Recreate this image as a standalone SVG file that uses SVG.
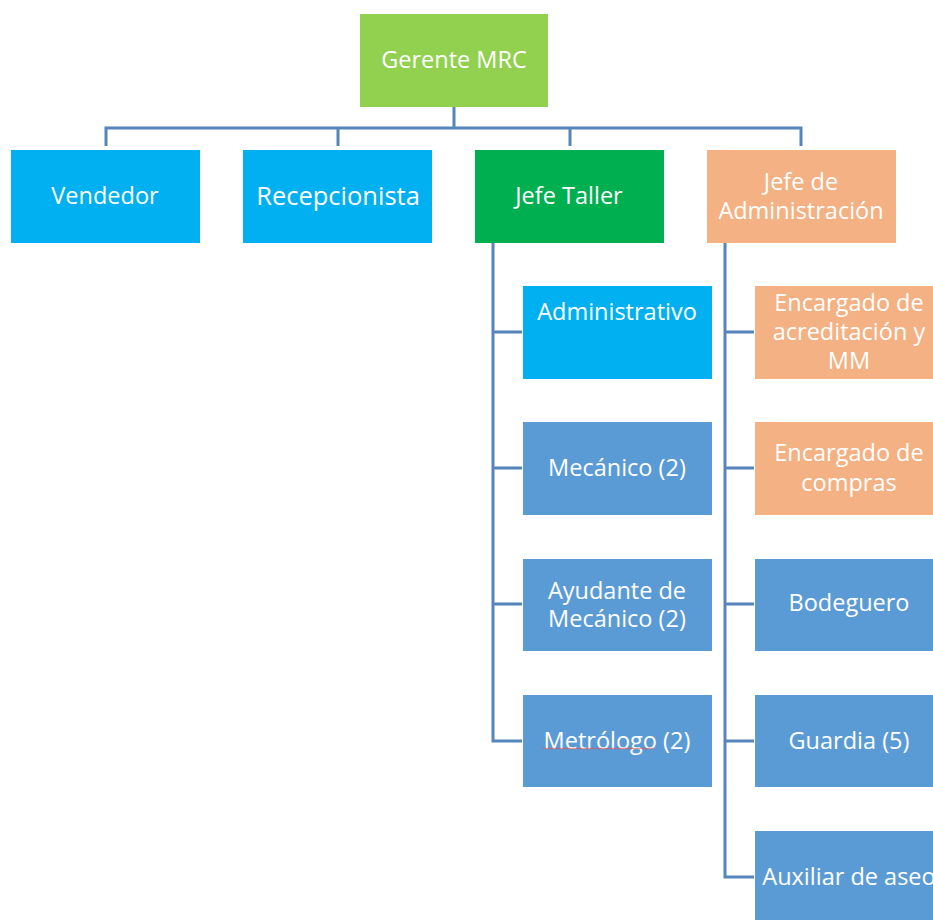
<svg xmlns="http://www.w3.org/2000/svg" width="933" height="920" viewBox="0 0 933 920">
<style>
.lbl{font-family:"Open Sans","Noto Sans","DejaVu Sans",sans-serif;font-size:23.5px;fill:#ffffff;text-anchor:middle}
.big{font-size:25.5px}
.ln{fill:none;stroke:#5585BA;stroke-width:3}
.lime{fill:#92D050}.cyan{fill:#00B0F0}.green{fill:#00B050}.peach{fill:#F4B183}.blue{fill:#5B9BD5}
</style>
<rect width="933" height="920" fill="#ffffff"/>
<g id="connectors">
<path class="ln" d="M454,107 V128 M106,146 V128 H801 V146 M338,128 V146 M570,128 V146"/>
<path class="ln" d="M493,243 V741 H522 M493,332 H522 M493,468 H522 M493,604 H522"/>
<path class="ln" d="M725,243 V877 H754 M725,332 H754 M725,468 H754 M725,604 H754 M725,741 H754"/>
</g>
<g id="gerente"><rect class="lime" x="360" y="14" width="188" height="93"/><text class="lbl" x="454" y="68">Gerente MRC</text></g>
<g id="vendedor"><rect class="cyan" x="11" y="150" width="189" height="93"/><text class="lbl" x="105" y="204">Vendedor</text></g>
<g id="recepcionista"><rect class="cyan" x="243" y="150" width="189" height="93"/><text class="lbl big" x="338" y="205">Recepcionista</text></g>
<g id="jefe-taller"><rect class="green" x="475" y="150" width="189" height="93"/><text class="lbl" x="569" y="204">Jefe Taller</text></g>
<g id="jefe-admin"><rect class="peach" x="707" y="150" width="189" height="93"/><text class="lbl" x="801" y="190">Jefe de</text><text class="lbl" x="801" y="219">Administración</text></g>
<g id="administrativo"><rect class="cyan" x="523" y="286" width="189" height="93"/><text class="lbl" x="617" y="320">Administrativo</text></g>
<g id="mecanico"><rect class="blue" x="523" y="422" width="189" height="93"/><text class="lbl" x="617" y="476">Mecánico (2)</text></g>
<g id="ayudante"><rect class="blue" x="523" y="559" width="189" height="92"/><text class="lbl" x="617" y="599">Ayudante de</text><text class="lbl" x="617" y="627">Mecánico (2)</text></g>
<g id="metrologo"><rect class="blue" x="523" y="695" width="189" height="92"/><text class="lbl" x="617" y="749">Metrólogo (2)</text><path d="M543,749 l2,-1 2,1 2,-1 2,1 2,-1 2,1 2,-1 2,1 2,-1 2,1 2,-1 2,1 2,-1 2,1 2,-1 2,1 2,-1 2,1 2,-1 2,1 2,-1 2,1 2,-1 2,1 2,-1 2,1 2,-1 2,1 2,-1 2,1 2,-1 2,1 2,-1 2,1 2,-1 2,1 2,-1 2,1 2,-1 2,1 2,-1 2,1 2,-1 2,1 2,-1 2,1 2,-1 2,1 2,-1 2,1 2,-1 2,1 2,-1 2,1 2,-1" fill="none" stroke="#E05050" stroke-width="0.8"/></g>
<g id="acreditacion"><rect class="peach" x="755" y="286" width="189" height="93"/><text class="lbl" x="849" y="311">Encargado de</text><text class="lbl" x="849" y="340">acreditación y</text><text class="lbl" x="849" y="369">MM</text></g>
<g id="compras"><rect class="peach" x="755" y="422" width="189" height="93"/><text class="lbl" x="849" y="461">Encargado de</text><text class="lbl" x="849" y="491">compras</text></g>
<g id="bodeguero"><rect class="blue" x="755" y="559" width="189" height="92"/><text class="lbl" x="849" y="611">Bodeguero</text></g>
<g id="guardia"><rect class="blue" x="755" y="695" width="189" height="92"/><text class="lbl" x="849" y="749">Guardia (5)</text></g>
<g id="auxiliar"><rect class="blue" x="755" y="831" width="189" height="93"/><text class="lbl" x="849" y="885">Auxiliar de aseo</text></g>
</svg>
